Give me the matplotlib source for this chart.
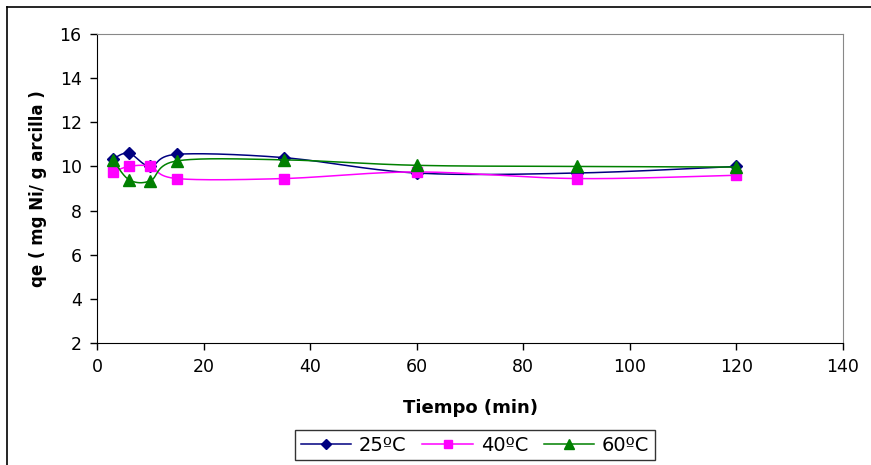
import numpy as np
import matplotlib
matplotlib.use("Agg")
import matplotlib.pyplot as plt
from matplotlib.lines import Line2D

plt.rcParams['font.family'] = ['DejaVu Sans']

# data
tiempo = [3, 6, 10, 15, 35, 60, 90, 120]
qe_25 = [10.35, 10.6, 10.0, 10.55, 10.4, 9.7, 9.7, 10.0]
qe_40 = [9.75, 10.0, 10.0, 9.45, 9.45, 9.75, 9.45, 9.6]
qe_60 = [10.3, 9.4, 9.35, 10.25, 10.3, 10.05, 10.0, 9.97]
labels = ["25ºC", "40ºC", "60ºC"]

SERIES = [
    (qe_25, "#000080", "D", 6.5),
    (qe_40, "#FF00FF", "s", 7),
    (qe_60, "#008000", "^", 8.5),
]


def smooth(x, y, n=30):
    # Excel-like smoothed line: cubic bezier with catmull-rom control points
    p = np.column_stack([x, y]).astype(float)
    out = []
    for i in range(len(p) - 1):
        p0 = p[i - 1] if i > 0 else p[i]
        p1, p2 = p[i], p[i + 1]
        p3 = p[i + 2] if i + 2 < len(p) else p[i + 1]
        c1 = p1 + (p2 - p0) / 6.0
        c2 = p2 - (p3 - p1) / 6.0
        t = np.linspace(0, 1, n)[:, None]
        seg = ((1 - t) ** 3) * p1 + 3 * ((1 - t) ** 2) * t * c1 + 3 * (1 - t) * t ** 2 * c2 + t ** 3 * p2
        out.append(seg if i == 0 else seg[1:])
    s = np.vstack(out)
    return s[:, 0], s[:, 1]


fig = plt.figure(figsize=(8.71, 4.65), dpi=100)
ax = fig.add_axes([97 / 871, 1 - 343 / 465, 746 / 871, 309 / 465])

handles = []
for (vals, col, mk, ms), lab in zip(SERIES, labels):
    sx, sy = smooth(tiempo, vals)
    ax.plot(sx, sy, color=col, lw=1.1)
    ax.plot(tiempo, vals, linestyle="none", marker=mk, color=col, markersize=ms)
    handles.append(Line2D([], [], color=col, lw=1.1, marker=mk, markersize=ms - 1, label=lab))

ax.set_xlim(0, 140)
ax.set_ylim(2, 16)
ax.set_xticks(range(0, 141, 20))
ax.set_yticks(range(2, 17, 2))
ax.tick_params(direction="out", length=5, width=1, labelsize=12.5, pad=6)
for side in ["top", "right"]:
    ax.spines[side].set_color("#888888")
for side in ["left", "bottom"]:
    ax.spines[side].set_color("black")

ax.set_xlabel("Tiempo (min)", fontsize=13, fontweight="bold", labelpad=16)
ax.set_ylabel("qe ( mg Ni/ g arcilla )", fontsize=12, fontweight="bold", labelpad=9)

leg = fig.legend(handles=handles, loc="center", bbox_to_anchor=(475 / 871, 1 - 445 / 465),
                 ncol=3, fontsize=14, frameon=True, fancybox=False, handlelength=2.6,
                 columnspacing=0.8, handletextpad=0.4, borderpad=0.3)
leg.get_frame().set_edgecolor("black")
leg.get_frame().set_linewidth(1.0)

# outer chart border (top and left edges visible)
fig.add_artist(Line2D([7 / 871, 1], [1 - 7 / 465, 1 - 7 / 465], color="black", lw=1.2, transform=fig.transFigure))
fig.add_artist(Line2D([7 / 871, 7 / 871], [0, 1 - 7 / 465], color="black", lw=1.2, transform=fig.transFigure))

fig.savefig("out.png", dpi=100)
